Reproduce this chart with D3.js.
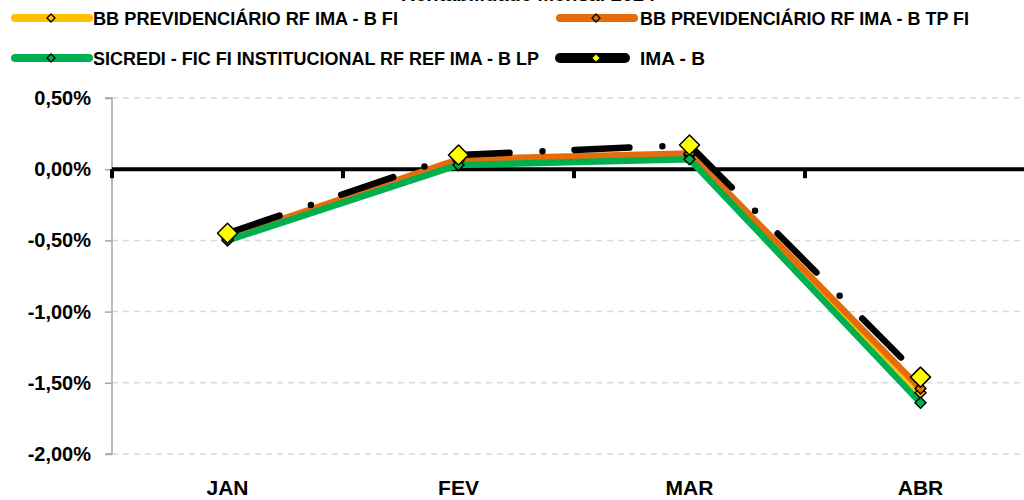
<!DOCTYPE html>
<html>
<head>
<meta charset="utf-8">
<script src="https://cdn.jsdelivr.net/npm/d3@7"></script>
<style>
  html, body { margin: 0; padding: 0; background: #fff; overflow: hidden; }
  svg { display: block; font-family: "Liberation Sans", Arial, sans-serif; font-weight: bold; }
</style>
</head>
<body>
<svg id="chart" width="1024" height="500"></svg>
<script>
// data (monthly return, %)
const months = ['JAN', 'FEV', 'MAR', 'ABR'];
const bbFi = [-0.49, 0.06, 0.10, -1.57];
const bbTpFi = [-0.48, 0.07, 0.11, -1.54];
const sicredi = [-0.50, 0.03, 0.07, -1.64];
const imaB = [-0.45, 0.10, 0.17, -1.46];
const yTicks = [0.5, 0, -0.5, -1, -1.5, -2];

const seriesNames = [
    'BB PREVIDENCIÁRIO RF IMA - B FI',
    'BB PREVIDENCIÁRIO RF IMA - B TP FI',
    'SICREDI - FIC FI INSTITUCIONAL RF REF IMA - B LP',
    'IMA - B'
];

const series = [
    { name: seriesNames[0], values: bbFi, color: '#FFC000', marker: '#FFC000', msize: 5.5, dash: null },
    { name: seriesNames[1], values: bbTpFi, color: '#E46C0A', marker: '#E46C0A', msize: 5.5, dash: null },
    { name: seriesNames[2], values: sicredi, color: '#00B050', marker: '#00B050', msize: 5.5, dash: null },
    { name: seriesNames[3], values: imaB, color: '#000000', marker: '#FFFF00', msize: 10, dash: '55 33 0 32' }
];

const svg = d3.select('#chart');
const margin = { left: 112, top: 98, right: -12, bottom: 46 };
const width = 1024, height = 500;

const x = d3.scaleBand()
    .domain(months)
    .range([margin.left, width - margin.right]);

const y = d3.scaleLinear()
    .domain([-2, 0.5])
    .range([height - margin.bottom, margin.top]);

const fmt = v => d3.format('.2f')(v).replace('.', ',').replace('−', '-') + '%';

// title, cut off by the top edge in the original
svg.append('text')
    .attr('x', 528).attr('y', 0.5)
    .attr('text-anchor', 'middle')
    .style('font-size', '20px')
    .attr('fill', '#000')
    .text('Rentabilidade Mensal 2024');

// gridlines
svg.append('g')
    .selectAll('line')
    .data(yTicks)
    .join('line')
    .attr('x1', margin.left).attr('x2', width)
    .attr('y1', d => y(d)).attr('y2', d => y(d))
    .attr('stroke', '#D9D9D9')
    .attr('stroke-width', 1.5)
    .attr('stroke-dasharray', '6 5');

// y axis
const yAxis = svg.append('g')
    .attr('transform', `translate(${margin.left},0)`)
    .call(d3.axisLeft(y).tickValues(yTicks).tickFormat(fmt).tickSize(7).tickPadding(14));
yAxis.select('.domain').attr('stroke', '#A6A6A6').attr('stroke-width', 1.5)
    .attr('d', `M-7,${y(0.5)}H0V${y(-2)}H-7`);
yAxis.selectAll('.tick line').attr('stroke', '#A6A6A6').attr('stroke-width', 1.5);
yAxis.selectAll('.tick text')
    .style('font-size', '20px')
    .attr('fill', '#000');

// zero axis with ticks at band boundaries
const zeroY = y(0);
svg.append('line')
    .attr('x1', margin.left).attr('x2', width)
    .attr('y1', zeroY).attr('y2', zeroY)
    .attr('stroke', '#000').attr('stroke-width', 4);
svg.append('g')
    .selectAll('line')
    .data(months)
    .join('line')
    .attr('x1', d => x(d)).attr('x2', d => x(d))
    .attr('y1', zeroY).attr('y2', zeroY + 9)
    .attr('stroke', '#000').attr('stroke-width', 4);

// category labels
svg.append('g')
    .selectAll('text')
    .data(months)
    .join('text')
    .attr('x', d => x(d) + x.bandwidth() / 2)
    .attr('y', 495)
    .attr('text-anchor', 'middle')
    .style('font-size', '21px')
    .attr('fill', '#000')
    .text(d => d);

// lines
const line = d3.line()
    .x((d, i) => x(months[i]) + x.bandwidth() / 2)
    .y(d => y(d));

const diamond = (cx, cy, r) => `M${cx},${cy - r}L${cx + r},${cy}L${cx},${cy + r}L${cx - r},${cy}Z`;

series.forEach(s => {
    svg.append('path')
        .datum(s.values)
        .attr('d', line)
        .attr('fill', 'none')
        .attr('stroke', s.color)
        .attr('stroke-width', 6.5)
        .attr('stroke-linejoin', 'round')
        .attr('stroke-linecap', 'round')
        .attr('stroke-dasharray', s.dash);
});

// markers
series.forEach(s => {
    svg.append('g')
        .selectAll('path')
        .data(s.values)
        .join('path')
        .attr('d', (d, i) => diamond(x(months[i]) + x.bandwidth() / 2, y(d), s.msize))
        .attr('fill', s.marker)
        .attr('stroke', '#000')
        .attr('stroke-width', 1.5)
        .attr('stroke-linejoin', 'round');
});

// legend: two columns, two rows
const legendPos = [
    { x: 15, y: 18, w: 305 },
    { x: 560, y: 18, w: 329 },
    { x: 15, y: 58, w: 446 },
    { x: 560, y: 58, w: 65 }
];
const legend = svg.append('g')
    .selectAll('g')
    .data(series)
    .join('g')
    .attr('transform', (d, i) => `translate(${legendPos[i].x},${legendPos[i].y})`);

legend.append('line')
    .attr('x1', 0).attr('x2', (d, i) => i === 3 ? 65 : 74)
    .attr('stroke', d => d.color)
    .attr('stroke-width', d => d.dash ? 10 : 8)
    .attr('stroke-linecap', 'round');
legend.append('path')
    .attr('d', d => diamond(36, 0, d.dash ? 4.5 : 4))
    .attr('fill', d => d.marker)
    .attr('stroke', '#000')
    .attr('stroke-width', 1.3);
legend.append('text')
    .attr('x', (d, i) => i % 2 === 0 ? 78 : 80)
    .attr('y', 7)
    .style('font-size', '19px')
    .attr('textLength', (d, i) => legendPos[i].w)
    .attr('lengthAdjust', 'spacingAndGlyphs')
    .attr('fill', '#000')
    .text(d => d.name);
</script>
</body>
</html>
